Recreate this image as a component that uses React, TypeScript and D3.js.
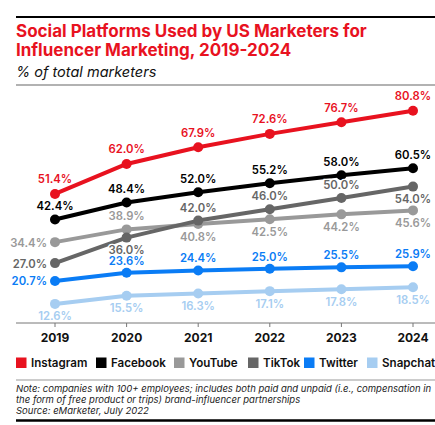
import React from "react";
import * as d3 from "d3";

const years = ["2019", "2020", "2021", "2022", "2023", "2024"];
const instagram = [51.4, 62.0, 67.9, 72.6, 76.7, 80.8];
const facebook = [42.4, 48.4, 52.0, 55.2, 58.0, 60.5];
const youtube = [34.4, 38.9, 40.8, 42.5, 44.2, 45.6];
const tiktok = [27.0, 36.0, 42.0, 46.0, 50.0, 54.0];
const twitter = [20.7, 23.6, 24.4, 25.0, 25.5, 25.9];
const snapchat = [12.6, 15.5, 16.3, 17.1, 17.8, 18.5];

// label placement per point: a = above, b = below, l = left
const seriesList = [
  { name: "Instagram", values: instagram, color: "#e8121f", labelColor: "#e8121f", pos: ["a", "a", "a", "a", "a", "a"], up: 10.5 },
  { name: "Facebook", values: facebook, color: "#000000", labelColor: "#000000", pos: ["a", "a", "a", "a", "a", "a"], up: 9 },
  { name: "YouTube", values: youtube, color: "#999999", labelColor: "#999999", pos: ["l", "a", "b", "b", "b", "b"], up: 9 },
  { name: "TikTok", values: tiktok, color: "#666666", labelColor: "#666666", pos: ["l", "b", "a", "a", "a", "b"], up: 9 },
  { name: "Twitter", values: twitter, color: "#0a7cf5", labelColor: "#0a7cf5", pos: ["l", "a", "a", "a", "a", "a"], up: 8 },
  { name: "Snapchat", values: snapchat, color: "#a6cdf1", labelColor: "#a6cdf1", pos: ["b", "b", "b", "b", "b", "b"], up: 9 },
];

const legendX = [16, 96, 174, 248, 304, 367];

const FONT = "Inter, 'Open Sans', sans-serif";

export default function App() {
  const W = 435;
  const H = 425;
  const x = d3.scalePoint<string>().domain(years).range([55, 413]);
  const y = d3.scaleLinear().domain([0, 90]).range([339.6, 84.6]);
  const line = d3
    .line<number>()
    .x((_, i) => x(years[i]) as number)
    .y((d) => y(d));

  // draw order: back to front
  const drawOrder = ["Snapchat", "Twitter", "YouTube", "TikTok", "Facebook", "Instagram"];
  const ordered = drawOrder.map((n) => seriesList.find((s) => s.name === n)!);

  return (
    <svg
      width={W}
      height={H}
      style={{ position: "absolute", left: 0, top: 0, background: "#fff" }}
      fontFamily={FONT}
    >
      <rect width={W} height={H} fill="#fff" />
      <line x1={16} x2={435} y1={17} y2={17} stroke="#000" strokeWidth={2} />
      <text x={16} y={37} fill="#e8121f" fontSize={17} fontWeight={700}>
        Social Platforms Used by US Marketers for
      </text>
      <text x={16} y={56} fill="#e8121f" fontSize={17} fontWeight={700}>
        Influencer Marketing, 2019-2024
      </text>
      <text x={16} y={77} fill="#111" fontSize={14.5} fontStyle="italic">
        % of total marketers
      </text>
      <line x1={16} x2={435} y1={85} y2={85} stroke="#999" strokeWidth={1.5} />

      {/* axis */}
      <line x1={16} x2={435} y1={323} y2={323} stroke="#777" strokeWidth={1} />
      {years.map((yr) => (
        <g key={yr}>
          <line x1={x(yr)} x2={x(yr)} y1={323} y2={327} stroke="#777" strokeWidth={1} />
          <text x={x(yr)} y={342} textAnchor="middle" fontSize={12} fontWeight={700} fill="#111">
            {yr}
          </text>
        </g>
      ))}

      {ordered.map((s) => (
        <g key={s.name}>
          <path d={line(s.values) || ""} fill="none" stroke={s.color} strokeWidth={4} strokeLinejoin="round" />
          {s.values.map((v, i) => (
            <circle key={i} cx={x(years[i])} cy={y(v)} r={5} fill={s.color} />
          ))}
        </g>
      ))}

      {ordered.map((s) => (
        <g key={s.name + "-labels"}>
          {s.values.map((v, i) => {
            const px = x(years[i]) as number;
            const py = y(v);
            const p = s.pos[i];
            let tx = px;
            let ty = py - s.up;
            let anchor: "middle" | "end" = "middle";
            if (p === "b") ty = py + 16.5;
            if (p === "l") {
              tx = px - 8;
              ty = py + 4.5;
              anchor = "end";
            }
            return (
              <text
                key={i}
                x={tx}
                y={ty}
                textAnchor={anchor}
                fontSize={11.3}
                fontWeight={600}
                fill={s.labelColor}
                stroke="#fff"
                strokeWidth={2.5}
                paintOrder="stroke"
              >
                {v.toFixed(1)}%
              </text>
            );
          })}
        </g>
      ))}

      {/* legend */}
      {seriesList.map((s, i) => (
        <g key={s.name + "-legend"}>
          <rect x={legendX[i]} y={357.5} width={10.5} height={10.5} fill={s.color} />
          <text x={legendX[i] + 15} y={367} fontSize={11.6} fontWeight={600} fill="#111">
            {s.name}
          </text>
        </g>
      ))}

      <line x1={16} x2={435} y1={380} y2={380} stroke="#999" strokeWidth={1} />
      <text x={16} y={392} fontSize={9.5} fontStyle="italic" fill="#222">
        Note: companies with 100+ employees; includes both paid and unpaid (i.e., compensation in
      </text>
      <text x={16} y={403} fontSize={9.5} fontStyle="italic" fill="#222">
        the form of free product or trips) brand-influencer partnerships
      </text>
      <text x={16} y={414} fontSize={9.5} fontStyle="italic" fill="#222">
        Source: eMarketer, July 2022
      </text>
      <line x1={16} x2={435} y1={420.5} y2={420.5} stroke="#000" strokeWidth={2.5} />
    </svg>
  );
}
